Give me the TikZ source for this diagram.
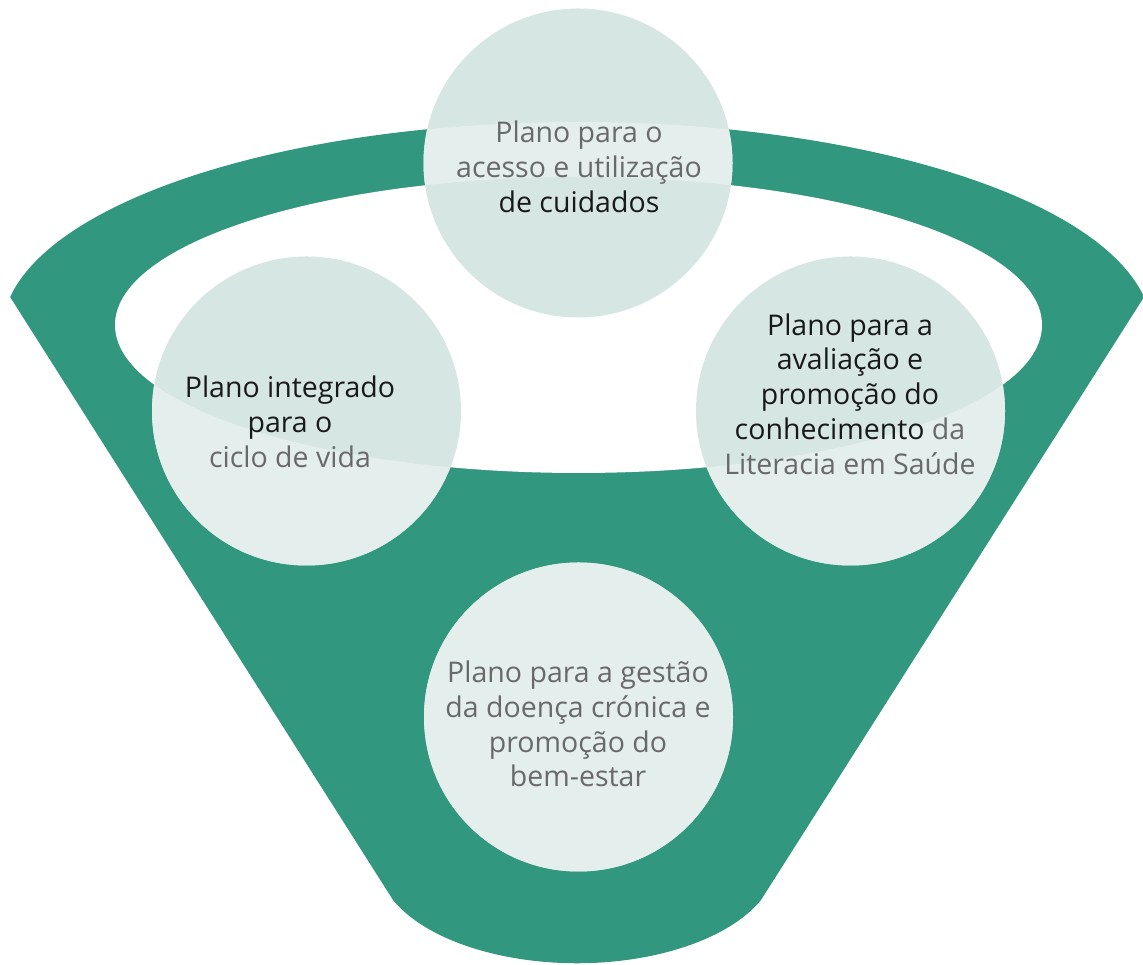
\documentclass[tikz,border=0pt]{standalone}
\usepackage{fontspec}
\setmainfont{Open Sans}
\definecolor{funnel}{RGB}{49,151,126}
\definecolor{circW}{RGB}{214,230,226}
\definecolor{circG}{RGB}{228,238,236}
\definecolor{txtdark}{RGB}{25,25,25}
\definecolor{txtgray}{RGB}{105,105,105}
\begin{document}
\begin{tikzpicture}[x=1pt,y=1pt,
  planbox/.style={circle, minimum size=309pt, inner sep=0pt, fill=circW},
  plantext/.style={align=center, font=\fontsize{28.5}{34.8}\selectfont, text=txtgray, inner sep=0pt}]
\useasboundingbox (0,0) rectangle (1143,965);
% funnel
\fill[funnel] (10.1,668) -- (393,65)
  arc[start angle=203.07, end angle=336.93, x radius=200, y radius=104]
  -- (1144,668)
  arc[start angle=9.6, end angle=170.4, x radius=575, y radius=210] -- cycle;
% inner white ellipse
\fill[white] (578.5,640) ellipse[x radius=463.5, y radius=148];
% circles (over white)
\node[planbox] (cTop) at (578,802) {};
\node[planbox] (cLeft) at (306.5,554) {};
\node[planbox] (cRight) at (850.5,554) {};
\node[planbox] (cBottom) at (578.5,248) {};
% circles over the green band
\begin{scope}[even odd rule]
  \clip (10.1,668) -- (393,65)
    arc[start angle=203.07, end angle=336.93, x radius=200, y radius=104]
    -- (1144,668)
    arc[start angle=9.6, end angle=170.4, x radius=575, y radius=210] -- cycle
    (578.5,640) ellipse[x radius=463.5, y radius=148];
  \foreach \c in {cTop,cLeft,cRight,cBottom}
    \fill[circG] (\c.center) circle[radius=154.5];
\end{scope}
% texts
\node[plantext] (tTop) at (579,798) {Plano para o\\acesso e utilização\\\textcolor{txtdark}{de cuidados}};
\node[plantext] (tLeft) at (290,543) {\textcolor{txtdark}{Plano integrado}\\\textcolor{txtdark}{para o}\\ciclo de vida};
\node[plantext] (tRight) at (850,571) {\textcolor{txtdark}{Plano para a}\\\textcolor{txtdark}{avaliação e}\\\textcolor{txtdark}{promoção do}\\\textcolor{txtdark}{conhecimento} da\\Literacia em Saúde};
\node[plantext] (tBottom) at (578,241) {Plano para a gestão\\da doença crónica e\\promoção do\\bem-estar};
\end{tikzpicture}
\end{document}
